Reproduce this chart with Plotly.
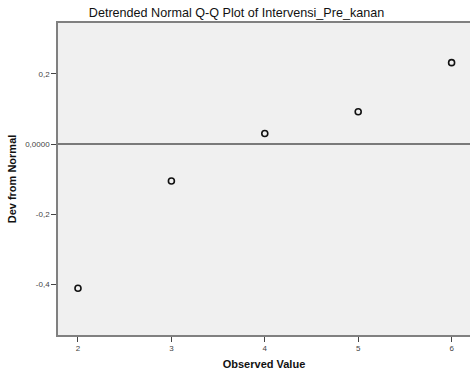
import plotly.graph_objects as go

observed = [2, 3, 4, 5, 6]
dev_from_normal = [-0.411, -0.105, 0.030, 0.092, 0.232]

x_ticks = [2, 3, 4, 5, 6]
x_ticklabels = ["2", "3", "4", "5", "6"]
y_ticks = [0.2, 0.0, -0.2, -0.4]
y_ticklabels = ["0,2", "0,0000", "-0,2", "-0,4"]

fig = go.Figure()
fig.add_trace(go.Scatter(
    x=observed, y=dev_from_normal, mode="markers",
    marker=dict(symbol="circle-open", size=6, color="#111111", line=dict(width=1.6, color="#111111")),
    showlegend=False, hoverinfo="skip"))

fig.add_shape(type="line", xref="paper", x0=0, x1=1, yref="y", y0=0, y1=0,
              line=dict(color="#7a7a7a", width=2))

fig.update_layout(
    width=470, height=374,
    margin=dict(l=58, r=0, t=23, b=39),
    paper_bgcolor="white", plot_bgcolor="#f0f0f0",
    font=dict(family="Liberation Sans, Arial, sans-serif", color="#222222"),
    title=dict(text="Detrended Normal Q-Q Plot of Intervensi_Pre_kanan",
               x=236.5/470, xanchor="center", y=1 - 13/374, yanchor="middle",
               font=dict(size=12.6, color="#111111")),
)
fig.update_xaxes(range=[1.786, 6.197], tickvals=x_ticks, ticktext=x_ticklabels,
                 showgrid=False, zeroline=False, showline=True, linecolor="#808080", linewidth=1.5,
                 mirror=True, ticks="outside", ticklen=5, tickcolor="#444444", tickwidth=1,
                 tickfont=dict(size=8, color="#444444"),
                 title=dict(text="<b>Observed Value</b>", font=dict(size=11, color="#111111"), standoff=8))
fig.update_yaxes(range=[-0.544, 0.345], tickvals=y_ticks, ticktext=y_ticklabels,
                 showgrid=False, zeroline=False, showline=True, linecolor="#808080", linewidth=1.5,
                 ticks="outside", ticklen=5, tickcolor="#444444", tickwidth=1,
                 tickfont=dict(size=8, color="#444444"),
                 title=dict(text="<b>Dev from Normal</b>", font=dict(size=11, color="#111111"), standoff=6))

fig.write_html("out.html")
